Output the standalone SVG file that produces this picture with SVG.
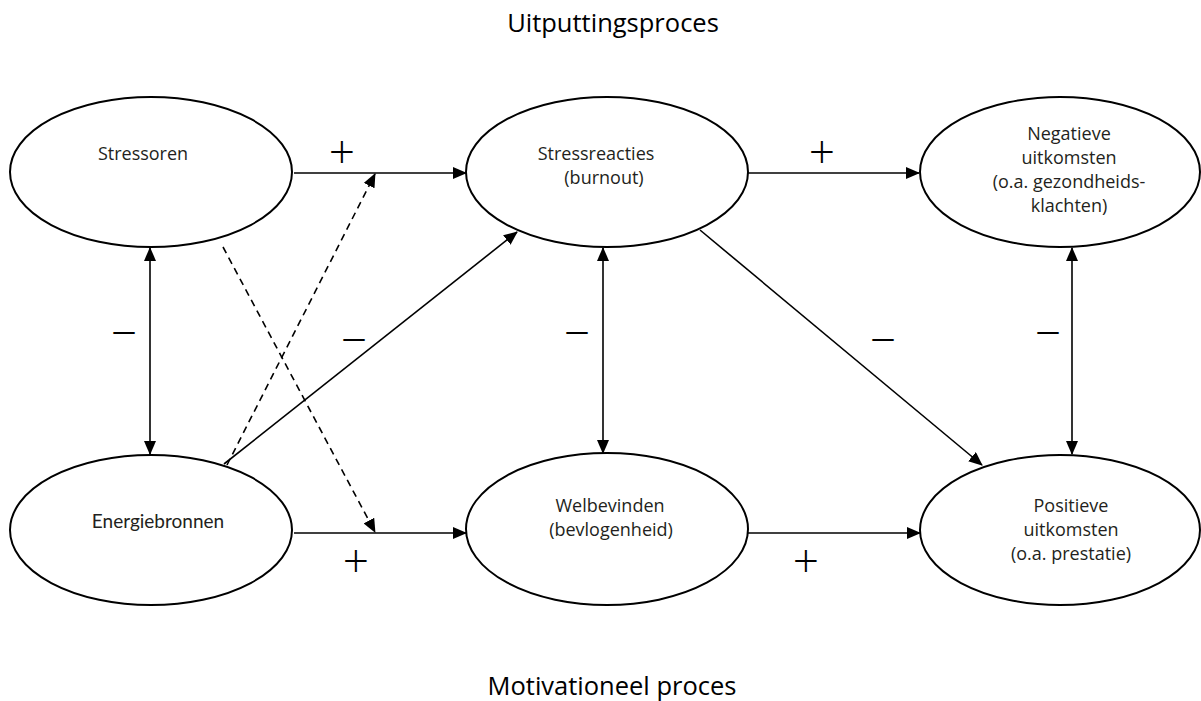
<svg xmlns="http://www.w3.org/2000/svg" width="1201" height="701" viewBox="0 0 1201 701">
<style>
.node ellipse{fill:#fff;stroke:#000;stroke-width:2}
.lbl{font-family:"Open Sans","Noto Sans","Liberation Sans",sans-serif;font-size:18px;fill:#231f20;text-anchor:middle}
.lbl2{font-family:Lato,"Open Sans","Liberation Sans",sans-serif;font-size:19px;fill:#231f20;text-anchor:middle}
.title{font-family:"Open Sans","Noto Sans","Liberation Sans",sans-serif;font-size:25.5px;fill:#000;text-anchor:middle}
.sign{font-family:"Open Sans","Liberation Sans",sans-serif;font-weight:300;font-size:46px;fill:#000;text-anchor:middle}
.conn line{stroke:#000;stroke-width:1.6;fill:none}
.conn .dash{stroke-dasharray:7,5}
</style>
<defs>
<marker id="ah" markerUnits="userSpaceOnUse" markerWidth="14" markerHeight="12" refX="13" refY="6" orient="auto-start-reverse" viewBox="0 0 14 12">
<path d="M0,0 L14,6 L0,12 z" fill="#000"/>
</marker>
</defs>
<rect width="1201" height="701" fill="#fff"/>
<text class="title" x="613" y="32">Uitputtingsproces</text>
<text class="title" x="612" y="695">Motivationeel proces</text>

<g id="connectors" class="conn">
<line x1="294" y1="173" x2="466" y2="173" marker-end="url(#ah)"/>
<line x1="748" y1="173" x2="919" y2="173" marker-end="url(#ah)"/>
<line x1="294" y1="533" x2="466" y2="533" marker-end="url(#ah)"/>
<line x1="748" y1="533" x2="920" y2="533" marker-end="url(#ah)"/>
<line x1="150" y1="248" x2="150" y2="454" marker-start="url(#ah)" marker-end="url(#ah)"/>
<line x1="603" y1="248" x2="603" y2="453" marker-start="url(#ah)" marker-end="url(#ah)"/>
<line x1="1072" y1="248" x2="1072" y2="454" marker-start="url(#ah)" marker-end="url(#ah)"/>
<line x1="224" y1="464" x2="517" y2="232" marker-end="url(#ah)"/>
<line x1="700" y1="230" x2="982" y2="465" marker-end="url(#ah)"/>
<line class="dash" x1="223" y1="247" x2="375" y2="532" marker-end="url(#ah)"/>
<line class="dash" x1="227" y1="465" x2="375" y2="174" marker-end="url(#ah)"/>
</g>

<g id="signs">
<text class="sign" x="342" y="168">+</text>
<text class="sign" x="822" y="168">+</text>
<text class="sign" x="356" y="577">+</text>
<text class="sign" x="806" y="577">+</text>
<text class="sign" x="124" y="349">−</text>
<text class="sign" x="354" y="356">−</text>
<text class="sign" x="577" y="349">−</text>
<text class="sign" x="883" y="356">−</text>
<text class="sign" x="1048" y="349">−</text>
</g>

<g id="stressoren" class="node">
<ellipse cx="151" cy="172" rx="141" ry="75"/>
<text class="lbl" x="143" y="160">Stressoren</text>
</g>
<g id="stressreacties" class="node">
<ellipse cx="607" cy="172" rx="141" ry="75"/>
<text class="lbl" x="596" y="160">Stressreacties</text>
<text class="lbl" x="604" y="184">(burnout)</text>
</g>
<g id="negatieve" class="node">
<ellipse cx="1060" cy="172" rx="140" ry="75"/>
<text class="lbl" x="1069" y="140">Negatieve</text>
<text class="lbl" x="1069" y="164">uitkomsten</text>
<text class="lbl" x="1069" y="188">(o.a. gezondheids-</text>
<text class="lbl" x="1069" y="212">klachten)</text>
</g>
<g id="energiebronnen" class="node">
<ellipse cx="151" cy="530" rx="141" ry="75"/>
<text class="lbl2" x="158" y="528">Energiebronnen</text>
</g>
<g id="welbevinden" class="node">
<ellipse cx="607" cy="529" rx="141" ry="76"/>
<text class="lbl" x="610" y="512">Welbevinden</text>
<text class="lbl" x="611" y="536">(bevlogenheid)</text>
</g>
<g id="positieve" class="node">
<ellipse cx="1060" cy="530" rx="140" ry="75"/>
<text class="lbl" x="1071" y="512">Positieve</text>
<text class="lbl" x="1071" y="536">uitkomsten</text>
<text class="lbl" x="1071" y="560">(o.a. prestatie)</text>
</g>
</svg>
